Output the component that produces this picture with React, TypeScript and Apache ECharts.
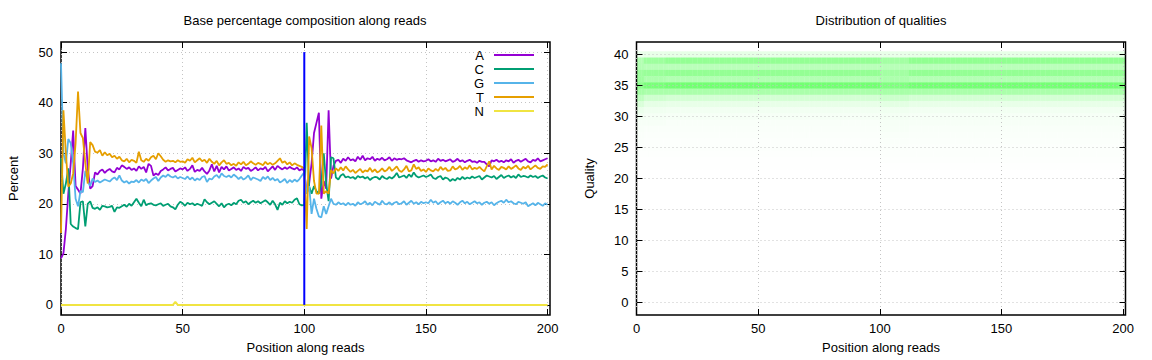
import React, { useEffect, useRef } from 'react';
import * as echarts from 'echarts';

// ---------- data ----------
const NAMES = ['A', 'C', 'G', 'T', 'N'];
const COLORS = ['#9400d3', '#009e73', '#56b4e9', '#e69f00', '#f0e442'];

const A = [
  9.2, 10.2, 15, 22, 28, 34.5, 23.5, 22.8, 22, 27,
  35, 27, 23, 23.5, 26.2, 25.8, 26.5, 26.8, 26.1, 26.6,
  26.9, 26.4, 26.2, 27.1, 26.8, 27.6, 27.3, 26.9, 27.2, 26.7,
  27, 26.5, 27.4, 26.9, 27.3, 26.2, 27.9, 27.5, 25.6, 26,
  25.7, 26.5, 26.8, 27.2, 26.6, 26.9, 27.1, 26.4, 26.7, 27,
  26.8, 27.2, 26.5, 26.9, 27.6, 26.3, 26.7, 26.5, 27.1, 26.4,
  25.9, 26.6, 27.8, 26.4, 27.5, 26.2, 27.3, 26.8, 27.4, 26.6,
  26.9, 27.2, 26.7, 27, 26.5, 27.3, 26.9, 27.1, 26.5, 26.8,
  27.2, 26.6, 27, 26.8, 27.3, 26.4, 26.9, 27.4, 26.7, 27.5,
  27.1, 26.8, 27.2, 26.9, 27.3, 27, 26.8, 27.2, 26.6, 26.9,
  26.5, 22, 24, 28, 34, 36, 38, 21, 24.5, 23,
  38.5, 25, 27.5, 28.5, 28.7, 28.1, 28.9, 28.5, 29.2, 28.6,
  28.8, 28.4, 29.3, 28.7, 29.5, 28.6, 29, 28.8, 29.3, 28.5,
  28.9, 28.7, 29.1, 28.6, 28.8, 29.2, 28.5, 29, 28.7, 28.9,
  28.8, 29, 28.6, 28.4, 28.2, 28.5, 28.7, 28.3, 28.6, 28.4,
  28.5, 28.8, 28.4, 28.6, 28.3, 28.9, 28.5, 28.7, 28.4, 28.6,
  28.8, 28.3, 28.5, 28.9, 28.4, 28.6, 28.2, 28.5, 28.7, 28.3,
  28.4, 28.1, 28.5, 28.3, 28.3, 27.8, 27.4, 28.6, 28.4, 28.7,
  28.3, 28.5, 28.2, 28.6, 28.4, 28.8, 28.1, 28.5, 28.7, 28.3,
  28.6, 28.9, 28.4, 28.2, 28.7, 28.5, 29, 28.4, 28.6, 28.8,
  29,
];

const C = [
  29, 22, 24, 27, 16, 15.5, 15.2, 15, 20.3, 20.5,
  15.5, 20, 20.5, 19.2, 19, 19.3, 18.8, 19.6, 19.5, 19.3,
  19.4, 19.6, 18.4, 19.3, 19.2, 19.5, 19.8, 19.4, 20, 19.6,
  20.3, 21, 20.2, 19.5, 20.8, 19.7, 20, 20.1, 19.8, 19.7,
  19.9, 20.1, 19.6, 19.8, 20, 19.5, 19.3, 18.9, 19.8, 20.4,
  20.1, 19.6, 20.2, 19.9, 20.1, 19.7, 20, 19.8, 19.6, 20.9,
  20.3, 19.9, 20.2, 20.5, 20, 19.5, 20.1, 19.3, 19.8, 20,
  19.7, 20.2, 19.9, 20.6, 20.8, 20.2, 20.5, 19.9, 20.3, 20.6,
  20.2, 20.5, 20.1, 20.4, 20.7, 20.3, 19.8, 20.6, 19.9, 18.8,
  20.2, 19.8, 20.5, 20.1, 20.4, 20.2, 20.8, 21.1, 19.9, 19.7,
  19.8, 36, 23.4, 22, 23.5, 22.5, 22, 24, 30, 24,
  20.5, 29.2, 29, 25.2, 24.8, 25.6, 25.9, 25.2, 25.4, 25.1,
  25.3, 24.9, 25.5, 25.2, 25.4, 25, 25.3, 24.7, 25.1, 25.3,
  25.2, 24.8, 25.5, 25.1, 24.9, 25.3, 25, 25.4, 26.1, 25.2,
  25.4, 25.6, 25.1, 25.8, 25.3, 26.2, 25.5, 25.2, 25.4, 25.6,
  25.3, 25.5, 25.8, 25.1, 24.9, 25.3, 25.5, 24.8, 25.2, 25,
  24.5, 24.9, 24.6, 25.1, 24.8, 25.3, 24.9, 25.2, 25, 25.4,
  25.1, 25.3, 25.5, 24.8, 25.2, 25.6, 25.4, 25.2, 25.5, 24.9,
  25.3, 25.7, 25.1, 25.4, 25.6, 25.2, 25.5, 25.1, 25.8, 25.3,
  25.5, 25.4, 25.2, 25.6, 25.3, 25.5, 25.1, 25.4, 25.6, 25.2,
  25,
];

const G = [
  47.8, 30, 28, 32.8, 32, 28, 21, 19.5, 22.5, 22.3,
  26.5, 24.5, 23.5, 25, 24.3, 24.6, 24.2, 24.5, 24.8, 24.6,
  24.4, 24.9, 25.2, 24.7, 25.6, 24.6, 24.2, 24.5, 24, 24.4,
  24.3, 24.7, 24.2, 24.8, 24.5, 24.9, 24.1, 24.6, 25, 25.3,
  24.5, 25.2, 25.6, 25.3, 25.8, 25.4, 25.2, 25.5, 25, 25.3,
  25.1, 24.9, 25.4, 24.8, 25.2, 24.6, 25, 24.7, 25.3, 25.5,
  24.3, 25, 24.8, 25.4, 25.7, 25.1, 26, 25.5, 25.3, 25.6,
  25.2, 25.8, 25.4, 24.9, 25.3, 24.8, 25.1, 25.6, 24.7, 25.2,
  25, 24.8, 24.5, 25.3, 24.9, 25.4, 24.7, 25.1, 24.6, 24.9,
  24.2, 24.5, 24.9, 24.1, 24.7, 24.3, 24.8, 24.4, 24.9, 25.6,
  26.2, 22, 23.5, 18, 21, 19, 17.5, 17.3, 19.5, 18,
  19.5, 21, 20, 19.8, 20.3, 19.9, 20.1, 19.7, 20.2, 19.8,
  20, 19.6, 20.3, 19.9, 20.1, 20.5, 19.8, 20.2, 19.7, 20.4,
  20.1, 19.8, 20.6, 20, 19.9, 20.3, 19.8, 20.2, 20.4, 19.9,
  20.1, 20.5, 19.8, 20.2, 20.6, 20, 20.3, 19.9, 20.4, 20.1,
  20.3, 20.1, 20.8, 20.2, 20.5, 19.9, 20.3, 20.6, 20.1, 20.4,
  20, 20.5, 20.2, 19.8, 20.3, 20.6, 20.1, 20.4, 19.9, 20.2,
  20.5, 20.1, 20.3, 19.8, 20.2, 20.4, 20, 20.3, 19.7, 20.1,
  20.4, 20.6, 20.2, 20.8, 20.3, 20.5, 20.1, 19.9, 20.4, 20.2,
  20, 20.3, 19.5, 19.8, 20.1, 19.7, 20.2, 19.9, 19.6, 20.1,
  19.8,
];

const T = [
  14.2, 38.5, 30, 23.4, 24, 26, 32, 42.2, 34, 33,
  28, 24, 32.2, 31.6, 30.3, 30.1, 30.6, 29.5, 30.2, 29.6,
  29.9, 29.2, 29.5, 28.9, 29.3, 28.6, 28.4, 28.9, 28.2, 28.7,
  28.5, 28.1, 30.3, 28.6, 28.3, 28.9, 28.5, 29.2, 29.5, 28.8,
  30, 29.4, 28.7, 28.3, 28.6, 28.4, 28.5, 28.2, 28.6, 28.3,
  28.4, 28.1, 28.8, 28.5, 29.1, 28.2, 28.6, 29, 28.4, 28.7,
  28.1, 28.9, 28.3, 27.9, 28.5, 27.6, 28.2, 28.6, 27.9, 28.1,
  27.6, 27.9, 27.5, 28.2, 27.8, 28.3, 27.6, 27.9, 28.4, 28,
  27.7, 28.1, 27.9, 27.6, 28.3, 27.8, 28.1, 27.7, 28, 28.5,
  29, 28.1, 28.4, 27.8, 28.2, 27.6, 28, 27.7, 27.5, 27.3,
  27, 15, 33.3, 31, 24.5, 22, 22, 35.5, 22, 22.5,
  22, 26.7, 26, 27, 26.5, 27.2, 26.6, 27.4, 26.8, 26.3,
  26.7, 26.1, 26.5, 26.9, 26.2, 26.6, 26.4, 27.1, 26.3, 26.8,
  26.2, 26.5, 27, 26.4, 26.7, 27.3, 26.5, 26.9, 27.4, 26.6,
  26.3, 26.8, 27.5, 26.4, 26.6, 27.8, 26.9, 27.2, 26.5, 26.8,
  26.3, 27, 26.6, 26.4, 26.9, 26.5, 27.3, 26.7, 27.1, 26.5,
  26.6, 27.4, 26.8, 27, 27.5, 26.7, 27.2, 26.9, 27.6, 26.8,
  27.1, 26.9, 27.3, 26.8, 26.4, 27.4, 28.4, 26.8, 27.5, 27,
  26.7, 27.3, 27.1, 26.8, 27.4, 26.9, 27.2, 27.6, 27, 26.7,
  27.3, 27, 27.5, 26.8, 27.2, 27.6, 27.1, 26.9, 27.4, 27.3,
  27.8,
];

// N: [position, percent] – zero everywhere except a tiny bump
const N_POINTS = [[0, 0], [46, 0], [47, 0.6], [48, 0], [200, 0]];

// divider at the read-pair boundary
const DIVIDER = [[100, 0], [100, 50]];

const PCT_TICKS = [0, 10, 20, 30, 40, 50];
const QUAL_TICKS = [0, 5, 10, 15, 20, 25, 30, 35, 40];
const POS_TICKS = [0, 50, 100, 150, 200];

// quality heatmap: rows (quality) and per-segment fraction profiles
const QUAL_ROWS = [40, 39, 38, 37, 36, 35, 34, 33, 32, 31, 30, 29, 28, 27, 26, 25, 24, 23, 22];
const PROF_START = [0.08, 0.3, 0.3, 0.38, 0.38, 0.45, 0.35, 0.25, 0.15, 0.08, 0.05, 0.03, 0.025, 0.02, 0.015, 0.01, 0.008, 0.005, 0.003];
const PROF_EARLY = [0.09, 0.38, 0.28, 0.4, 0.32, 0.52, 0.33, 0.19, 0.1, 0.06, 0.04, 0.03, 0.02, 0.015, 0.012, 0.01, 0.008, 0.005, 0.003];
const PROF_MID = [0.1, 0.42, 0.27, 0.42, 0.3, 0.55, 0.33, 0.17, 0.09, 0.05, 0.035, 0.025, 0.02, 0.015, 0.012, 0.01, 0.008, 0.005, 0.003];
const PROF_SPIKE = [0.09, 0.36, 0.28, 0.36, 0.32, 0.5, 0.34, 0.2, 0.11, 0.06, 0.045, 0.035, 0.03, 0.025, 0.02, 0.015, 0.01, 0.006, 0.004];
const PROF_LATE = [0.1, 0.43, 0.27, 0.42, 0.29, 0.54, 0.33, 0.17, 0.09, 0.05, 0.035, 0.03, 0.025, 0.02, 0.015, 0.012, 0.01, 0.008, 0.005];
const SEGMENTS = [
  { from: 0, to: 2, prof: PROF_START },
  { from: 3, to: 11, prof: PROF_EARLY },
  { from: 12, to: 99, prof: PROF_MID },
  { from: 100, to: 111, prof: PROF_SPIKE },
  { from: 112, to: 200, prof: PROF_LATE },
];

// ---------- helpers ----------
const FONT = 'Liberation Sans, Arial, sans-serif';
const FS = 13;
const GRID_COLOR = '#c4c4c4';

function App() {
  const ref = useRef<HTMLDivElement>(null);

  useEffect(() => {
    if (!ref.current) return;
    const chart = echarts.init(ref.current, null, { renderer: 'svg' });

    const heat: number[][] = [];
    SEGMENTS.forEach((s) => {
      for (let p = s.from; p <= s.to; p++) {
        QUAL_ROWS.forEach((q, j) => heat.push([p, q, s.prof[j]]));
      }
    });

    const lineSeries = [A, C, G, T].map((arr, i) => ({
      type: 'line',
      name: NAMES[i],
      xAxisIndex: 0,
      yAxisIndex: 0,
      data: arr.map((v, p) => [p, v]),
      showSymbol: false,
      symbol: 'none',
      lineStyle: { color: COLORS[i], width: 1.8 },
      itemStyle: { color: COLORS[i] },
      z: 3,
    }));

    const mkX = (grid: number, top: boolean) => ({
      type: 'value',
      gridIndex: grid,
      position: top ? 'top' : 'bottom',
      min: 0,
      max: 201,
      axisLine: { show: false, onZero: false },
      axisTick: { show: true, inside: true, length: 6, customValues: POS_TICKS, lineStyle: { color: '#000', width: 1 } },
      axisLabel: top
        ? { show: false }
        : { show: true, customValues: POS_TICKS, color: '#000', fontFamily: FONT, fontSize: FS, margin: 7 },
      splitLine: top
        ? { show: false }
        : { show: true, lineStyle: { color: GRID_COLOR, type: [1, 3], width: 1 } },
      name: top ? '' : 'Position along reads',
      nameLocation: 'middle',
      nameGap: 26,
      nameTextStyle: { color: '#000', fontFamily: FONT, fontSize: FS },
    });

    const mkY = (grid: number, right: boolean, min: number, max: number, ticks: number[], name: string, gap: number) => ({
      type: 'value',
      gridIndex: grid,
      position: right ? 'right' : 'left',
      min,
      max,
      axisLine: { show: false, onZero: false },
      axisTick: { show: true, inside: true, length: 6, customValues: ticks, lineStyle: { color: '#000', width: 1 } },
      axisLabel: right
        ? { show: false }
        : { show: true, customValues: ticks, color: '#000', fontFamily: FONT, fontSize: FS, margin: 8 },
      splitLine: right
        ? { show: false }
        : { show: true, lineStyle: { color: GRID_COLOR, type: [1, 3], width: 1 } },
      name: right ? '' : name,
      nameLocation: 'middle',
      nameGap: gap,
      nameRotate: 90,
      nameTextStyle: { color: '#000', fontFamily: FONT, fontSize: FS },
    });

    const legendGraphics: any[] = [];
    NAMES.forEach((n, i) => {
      const y = Math.round(55 + i * 13.9);
      legendGraphics.push({
        type: 'text',
        id: 'lt' + i,
        x: 484,
        y,
        silent: true,
        style: { text: n, fill: 'black', fontFamily: FONT, fontSize: FS, align: 'right', verticalAlign: 'middle' },
        z: 10,
      });
      legendGraphics.push({
        type: 'line',
        id: 'll' + i,
        silent: true,
        shape: { x1: 494, y1: y, x2: 534, y2: y },
        style: { stroke: COLORS[i], lineWidth: 2 },
        z: 10,
      });
    });

    const option: any = {
      animation: false,
      backgroundColor: '#fff',
      grid: [
        { left: 61, top: 42, width: 489, height: 273, show: true, borderColor: '#000', borderWidth: 1.5, backgroundColor: 'transparent', containLabel: false },
        { left: 636.5, top: 42, width: 489, height: 273, show: true, borderColor: '#000', borderWidth: 1.5, backgroundColor: 'transparent', containLabel: false },
      ],
      xAxis: [mkX(0, false), mkX(0, true), mkX(1, false), mkX(1, true)],
      yAxis: [
        mkY(0, false, -2, 52, PCT_TICKS, 'Percent', 41),
        mkY(0, true, -2, 52, PCT_TICKS, '', 0),
        mkY(1, false, -2, 42, QUAL_TICKS, 'Quality', 41),
        mkY(1, true, -2, 42, QUAL_TICKS, '', 0),
      ],
      graphic: [
        {
          type: 'text',
          id: 'title1',
          x: 305,
          y: 20,
          style: { text: 'Base percentage composition along reads', fill: '#000', fontFamily: FONT, fontSize: FS, align: 'center', verticalAlign: 'middle' },
        },
        {
          type: 'text',
          id: 'title2',
          x: 881,
          y: 20,
          style: { text: 'Distribution of qualities', fill: '#000', fontFamily: FONT, fontSize: FS, align: 'center', verticalAlign: 'middle' },
        },
        ...legendGraphics,
      ],
      series: [
        ...lineSeries,
        {
          type: 'line',
          name: 'N',
          xAxisIndex: 0,
          yAxisIndex: 0,
          data: N_POINTS,
          showSymbol: false,
          symbol: 'none',
          lineStyle: { color: COLORS[4], width: 2 },
          z: 3,
        },
        {
          type: 'line',
          name: 'divider',
          xAxisIndex: 0,
          yAxisIndex: 0,
          data: DIVIDER,
          showSymbol: false,
          symbol: 'none',
          lineStyle: { color: '#0000ff', width: 2 },
          z: 4,
        },
        {
          type: 'custom',
          xAxisIndex: 2,
          yAxisIndex: 2,
          data: heat,
          clip: true,
          z: -1,
          renderItem: (params: any, api: any) => {
            const x = api.value(0);
            const q = api.value(1);
            const v = api.value(2);
            const p1 = api.coord([x, q + 0.5]);
            const p2 = api.coord([x + 1, q - 0.5]);
            const c = Math.round(255 * (1 - v));
            return {
              type: 'rect',
              shape: { x: p1[0], y: p1[1], width: p2[0] - p1[0] + 0.4, height: p2[1] - p1[1] + 0.4 },
              style: { fill: `rgb(${c},255,${c})` },
            };
          },
        },
      ],
    };

    chart.setOption(option);
    return () => chart.dispose();
  }, []);

  return (
    <div
      ref={ref}
      style={{ position: 'fixed', left: 0, top: 0, width: 1152, height: 360, background: '#fff' }}
    />
  );
}

export default App;
